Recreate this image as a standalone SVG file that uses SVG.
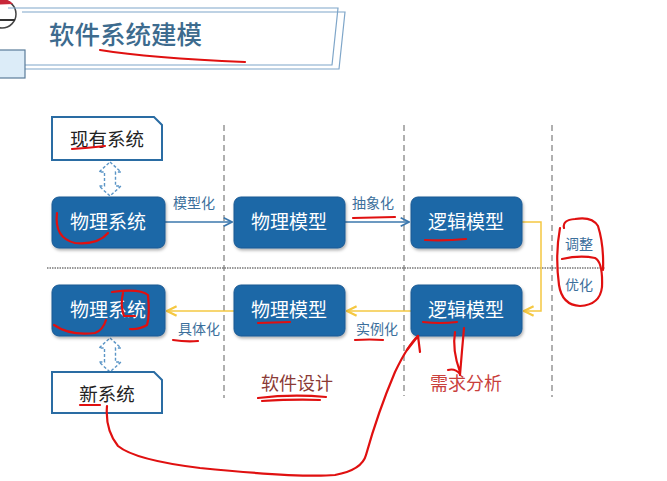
<svg xmlns="http://www.w3.org/2000/svg" width="667" height="481" viewBox="0 0 667 481">
<defs>
<style>
.box{fill:#1f67a7;stroke:#185a94;stroke-width:1}
.wbox{fill:#fff;stroke:#2a6ca3;stroke-width:2}
.wt{font-family:"Noto Sans CJK SC","Noto Sans",sans-serif;font-size:19px;fill:#fff;text-anchor:middle}
.bt{font-family:"Noto Sans CJK SC","Noto Sans",sans-serif;font-size:18.5px;fill:#222;text-anchor:middle}
.lbl{font-family:"Noto Sans CJK SC","Noto Sans",sans-serif;font-size:14px;fill:#3c6f9c;text-anchor:middle}
.sec{font-family:"Noto Sans CJK SC","Noto Sans",sans-serif;font-size:18px;text-anchor:middle}
.vdash{stroke:#b0b0b0;stroke-width:2;stroke-dasharray:6 4;fill:none}
.blue{stroke:#3b77ad;stroke-width:1.3;fill:none}
.yel{stroke:#f5c842;stroke-width:1.5;fill:none}
.dbl{fill:#fff;stroke:#5b95c6;stroke-width:1.4;stroke-dasharray:3 2}
.red{stroke:#e01010;stroke-width:2.2;fill:none;stroke-linecap:round;stroke-linejoin:round}
</style>
<marker id="ab" viewBox="0 0 10 10" refX="9" refY="5" markerWidth="8" markerHeight="8" orient="auto"><path d="M1 1 L9 5 L1 9" fill="none" stroke="#3b77ad" stroke-width="1.6"/></marker>
<marker id="ay" viewBox="0 0 10 10" refX="9" refY="5" markerWidth="8" markerHeight="8" orient="auto"><path d="M1 1 L9 5 L1 9" fill="none" stroke="#f5c842" stroke-width="1.8"/></marker>
<filter id="sh" x="-10%" y="-10%" width="130%" height="140%"><feDropShadow dx="1" dy="2" stdDeviation="1.5" flood-color="#000" flood-opacity="0.3"/></filter>
</defs>
<rect width="667" height="481" fill="#fff"/>

<g id="header">
<circle cx="2" cy="14" r="14" fill="#fff" stroke="#444" stroke-width="1.5"/>
<path d="M-9 5 A14 14 0 0 1 13 4 Z" fill="#c8283a"/>
<line x1="-10" y1="20" x2="15" y2="20" stroke="#333" stroke-width="2"/>
<path d="M8 8 H338 L332 65 H25" fill="none" stroke="#7fa6c9" stroke-width="1.2"/>
<path d="M22 12 H345 L339 69 H25" fill="none" stroke="#7fa6c9" stroke-width="1.2"/>
<rect x="-2" y="50" width="27" height="28" fill="#dcecf8" stroke="#5a7c9a" stroke-width="1.2"/>
<text x="49" y="44" font-family="'Noto Sans CJK SC','Noto Sans',sans-serif" font-size="25.5" font-weight="500" fill="#3d6b8e">软件系统建模</text>
</g>

<g id="dividers">
<line class="vdash" x1="224" y1="125" x2="224" y2="398"/>
<line class="vdash" x1="404" y1="125" x2="404" y2="396"/>
<line class="vdash" x1="552" y1="125" x2="552" y2="397"/>
<line x1="47" y1="268" x2="605" y2="268" stroke="#333" stroke-width="1" stroke-dasharray="1.5 1"/>
</g>

<g id="connectors">
<path class="dbl" d="M110 162 L121 172 L115.5 172 L115.5 186 L121 186 L110 196 L99 186 L104.5 186 L104.5 172 L99 172 Z"/>
<path class="dbl" d="M110 338 L121 348 L115.5 348 L115.5 362 L121 362 L110 372 L99 362 L104.5 362 L104.5 348 L99 348 Z"/>
<line class="blue" x1="165" y1="222" x2="232" y2="222" marker-end="url(#ab)"/>
<line class="blue" x1="345" y1="222" x2="409" y2="222" marker-end="url(#ab)"/>
<path class="yel" d="M522 222 H541 V311 H524" marker-end="url(#ay)"/>
<line class="yel" x1="411" y1="311" x2="347" y2="311" marker-end="url(#ay)"/>
<line class="yel" x1="234" y1="311" x2="167" y2="311" marker-end="url(#ay)"/>
<text class="lbl" x="194" y="208">模型化</text>
<text class="lbl" x="373" y="208">抽象化</text>
<text class="lbl" x="579" y="249">调整</text>
<text class="lbl" x="579" y="290">优化</text>
<text class="lbl" x="199" y="334">具体化</text>
<text class="lbl" x="377" y="334">实例化</text>
</g>

<g id="n-existing"><path class="wbox" d="M52 117 H154 L162 125 V160 H52 Z"/><text class="bt" x="107" y="146">现有系统</text></g>
<g id="n-phys-sys-top"><rect class="box" x="52" y="197" width="113" height="51" rx="7" filter="url(#sh)"/><text class="wt" x="108" y="229">物理系统</text></g>
<g id="n-phys-model-top"><rect class="box" x="234" y="197" width="111" height="51" rx="7" filter="url(#sh)"/><text class="wt" x="289" y="229">物理模型</text></g>
<g id="n-logic-top"><rect class="box" x="411" y="197" width="111" height="51" rx="7" filter="url(#sh)"/><text class="wt" x="466" y="229">逻辑模型</text></g>
<g id="n-phys-sys-bot"><rect class="box" x="52" y="285" width="113" height="51" rx="7" filter="url(#sh)"/><text class="wt" x="108" y="317">物理系统</text></g>
<g id="n-phys-model-bot"><rect class="box" x="234" y="285" width="111" height="51" rx="7" filter="url(#sh)"/><text class="wt" x="289" y="317">物理模型</text></g>
<g id="n-logic-bot"><rect class="box" x="411" y="285" width="111" height="51" rx="7" filter="url(#sh)"/><text class="wt" x="466" y="317">逻辑模型</text></g>
<g id="n-new"><path class="wbox" d="M52 372 H154 L162 380 V413 H52 Z"/><text class="bt" x="107" y="401">新系统</text></g>

<g id="sections">
<text class="sec" x="297" y="390" fill="#8a3a36">软件设计</text>
<text class="sec" x="466" y="390" fill="#c9403c">需求分析</text>
</g>

<g id="annotations">
<path class="red" d="M100 50 Q150 58 245 62"/>
<path class="red" d="M72 149 Q88 148 105 146"/>
<path class="red" d="M57 213 Q54 238 75 243 Q98 245 108 233"/>
<path class="red" d="M353 218 L395 217"/>
<path class="red" d="M425 240 Q445 241 466 239"/>
<path class="red" d="M564 228 Q562 220 575 219 Q592 216 598 226 Q604 245 603 270"/>
<path class="red" d="M562 259 Q580 255 595 258 Q603 262 602 287 Q600 305 580 306 Q562 305 559 285 Q555 255 560 228"/>
<path class="red" d="M54 325 Q70 336 95 333 Q103 330 106 320"/>
<path class="red" d="M112 292 Q140 288 148 295 Q150 315 147 325 Q138 330 130 329 M123 293 Q120 305 124 316 L135 316"/>
<path class="red" d="M173 340 Q186 342 198 341"/>
<path class="red" d="M355 340 Q370 339 383 340"/>
<path class="red" d="M258 323 L290 322"/>
<path class="red" d="M423 322 Q440 324 457 322"/>
<path class="red" d="M455 332 Q452 350 460 372 M448 370 Q455 368 460 374 M464 328 Q462 350 460 375"/>
<path class="red" d="M258 398 Q292 394 326 397 M262 401 Q295 399 320 400"/>
<path class="red" d="M80 405 L100 405"/>
<path class="red" d="M107 406 Q105 430 118 446 Q135 460 200 468 Q300 478 335 475 Q362 470 366 455 Q378 412 395 372 Q408 345 418 336"/>
<path class="red" d="M407 350 L418 336 L420 352"/>
</g>
</svg>
